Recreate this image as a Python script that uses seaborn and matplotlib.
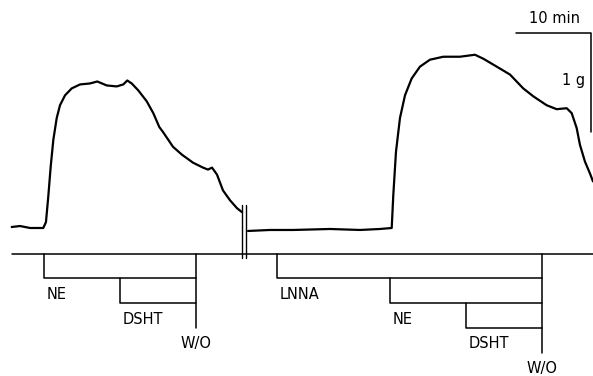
import matplotlib
matplotlib.use("Agg")
import matplotlib.pyplot as plt
import seaborn as sns
import pandas as pd

# ---- data (time in min, tension in g) ----
left_t = [-0.04, 1.07, 2.4, 4.17, 4.53, 4.84, 5.16, 5.51, 5.96, 6.4, 7.07, 7.96, 9.07,
          10.4, 11.37, 12.63, 13.96, 14.84, 15.37, 15.96, 16.84, 17.96, 18.84, 19.64,
          20.13, 21.47, 22.67, 24.13, 25.47, 26.13, 26.67, 27.33, 28.13, 29.07, 30.0, 30.67]
left_g = [0.02, 0.03, 0.01, 0.01, 0.07, 0.33, 0.63, 0.90, 1.12, 1.25, 1.35, 1.42, 1.46,
          1.47, 1.49, 1.45, 1.44, 1.46, 1.50, 1.47, 1.40, 1.29, 1.17, 1.03,
          0.98, 0.83, 0.75, 0.67, 0.62, 0.60, 0.62, 0.55, 0.39, 0.29, 0.21, 0.17]
right_t = [31.47, 34.4, 37.47, 42.4, 46.4, 49.07, 50.63, 50.84, 51.2, 51.73, 52.4, 53.29,
           54.4, 55.73, 57.51, 59.73, 61.73, 62.84, 64.63, 66.4, 68.17, 69.51, 71.29,
           72.63, 73.96, 74.63, 75.29, 75.73, 76.4, 77.07, 77.47]
right_g = [-0.02, -0.01, -0.01, 0.0, -0.01, 0.0, 0.01, 0.34, 0.78, 1.12, 1.35, 1.52,
           1.64, 1.71, 1.74, 1.74, 1.76, 1.72, 1.64, 1.56, 1.42, 1.34, 1.25,
           1.21, 1.22, 1.17, 1.02, 0.85, 0.68, 0.56, 0.48]

break_t = [30.67, 31.2]
left_events = ["NE", "DSHT"]
left_event_t = [4.27, 14.4]
left_wo_t = 24.53
right_events = ["LNNA", "NE", "DSHT"]
right_event_t = [35.33, 50.4, 60.53]
right_wo_t = 70.67
scale_min = 10
scale_g = 1

sns.set_style("white")
plt.rcParams['font.family'] = ['DejaVu Sans']

fig = plt.figure(figsize=(5.93, 3.76), dpi=100)
ax = fig.add_axes([0, 0, 1, 1])
ax.set_xlim(-1.6, 77.47)
ax.set_ylim(-1.485, 2.313)
ax.axis("off")

df = pd.concat([
    pd.DataFrame({"t": left_t, "g": left_g, "seg": "a"}),
    pd.DataFrame({"t": right_t, "g": right_g, "seg": "b"}),
])
sns.lineplot(data=df, x="t", y="g", units="seg", estimator=None, color="black",
             lw=1.6, ax=ax, legend=False, sort=False, solid_joinstyle="round")

# break marks
for bt in break_t:
    ax.plot([bt, bt], [0.24, -0.29], color="black", lw=1.0)

# protocol baseline
base = -0.25
step = 0.25
ax.plot([-0.0, 77.47], [base, base], color="black", lw=1.1)

fs = 10.5
tc = "black"

def protocol(names, times, wo_t):
    for i, (n, tt) in enumerate(zip(names, times)):
        top = base - i * step
        bot = base - (i + 1) * step
        ax.plot([tt, tt, wo_t], [top, bot, bot], color="black", lw=1.1)
        ax.text(tt + 0.4, bot - 0.16, n, ha="left", va="center", fontsize=fs, color=tc)
    wo_bot = base - (len(names) + 1) * step
    ax.plot([wo_t, wo_t], [base, wo_bot], color="black", lw=1.1)
    ax.text(wo_t, wo_bot - 0.16, "W/O", ha="center", va="center", fontsize=fs, color=tc)

protocol(left_events, left_event_t, left_wo_t)
protocol(right_events, right_event_t, right_wo_t)

# scale bar
sx1 = 77.2
sy1 = 1.98
ax.plot([sx1 - scale_min, sx1, sx1], [sy1, sy1, sy1 - scale_g], color="black", lw=1.1)
ax.text(sx1 - 4.8, sy1 + 0.15, "10 min", ha="center", va="center", fontsize=fs, color=tc)
ax.text(sx1 - 0.8, sy1 - 0.48, "1 g", ha="right", va="center", fontsize=fs, color=tc)

fig.savefig("out.png", dpi=100)
